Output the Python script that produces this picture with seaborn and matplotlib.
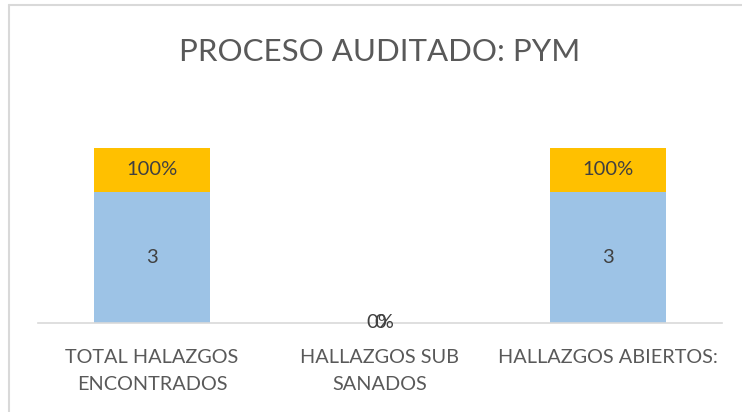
import matplotlib
matplotlib.use("Agg")
import matplotlib.pyplot as plt
import seaborn as sns
import pandas as pd
from matplotlib.lines import Line2D

categories = ["TOTAL HALAZGOS\nENCONTRADOS", "HALLAZGOS SUB\nSANADOS", "HALLAZGOS ABIERTOS:"]
counts = [3, 0, 3]
percents = [1.0, 0.0, 1.0]
count_labels = ["3", "0", "3"]
percent_labels = ["100%", "0%", "100%"]
title = "PROCESO AUDITADO: PYM"

sns.set_theme(style="white")
plt.rcParams["font.family"] = ["Lato", "DejaVu Sans"]

df = pd.DataFrame({"cat": categories, "count": counts, "pct": percents})
df["total"] = df["count"] + df["pct"]

fig = plt.figure(figsize=(7.42, 4.12), dpi=100)
ax = fig.add_axes([38 / 742, 89 / 412, 684 / 742, 197 / 412])

sns.barplot(data=df, x="cat", y="total", order=categories, color="#FFC000",
            width=0.51, saturation=1, ax=ax, edgecolor="none")
sns.barplot(data=df, x="cat", y="count", order=categories, color="#9DC3E6",
            width=0.51, saturation=1, ax=ax, edgecolor="none")

ax.set_ylim(0, 4.5)
ax.set_xlim(-0.5, len(categories) - 0.5)
ax.set_xlabel("")
ax.set_ylabel("")
ax.set_yticks([])
for s in ["top", "right", "left"]:
    ax.spines[s].set_visible(False)
ax.spines["bottom"].set_color("#D9D9D9")
ax.spines["bottom"].set_linewidth(1.2)
ax.tick_params(axis="x", length=0, pad=19, labelsize=14.3, labelcolor="#595959")
for t in ax.get_xticklabels():
    t.set_linespacing(1.7)

for i, (c, p) in enumerate(zip(counts, percents)):
    ax.text(i, c / 2, count_labels[i], ha="center", va="center",
            fontsize=14.5, color="#404040")
    ax.text(i, c + p / 2, percent_labels[i], ha="center", va="center",
            fontsize=14.5, color="#404040")

fig.text(380 / 742, 1 - 52 / 412, title, ha="center", va="center",
         fontsize=22.5, color="#595959")

# partial chart-area border (top and left)
fig.add_artist(Line2D([9 / 742, 1], [1 - 4.5 / 412, 1 - 4.5 / 412],
                      transform=fig.transFigure, color="#D9D9D9", lw=1.5))
fig.add_artist(Line2D([9 / 742, 9 / 742], [0, 1 - 4.5 / 412],
                      transform=fig.transFigure, color="#D9D9D9", lw=1.5))

fig.savefig("out.png", dpi=100, facecolor="white")
